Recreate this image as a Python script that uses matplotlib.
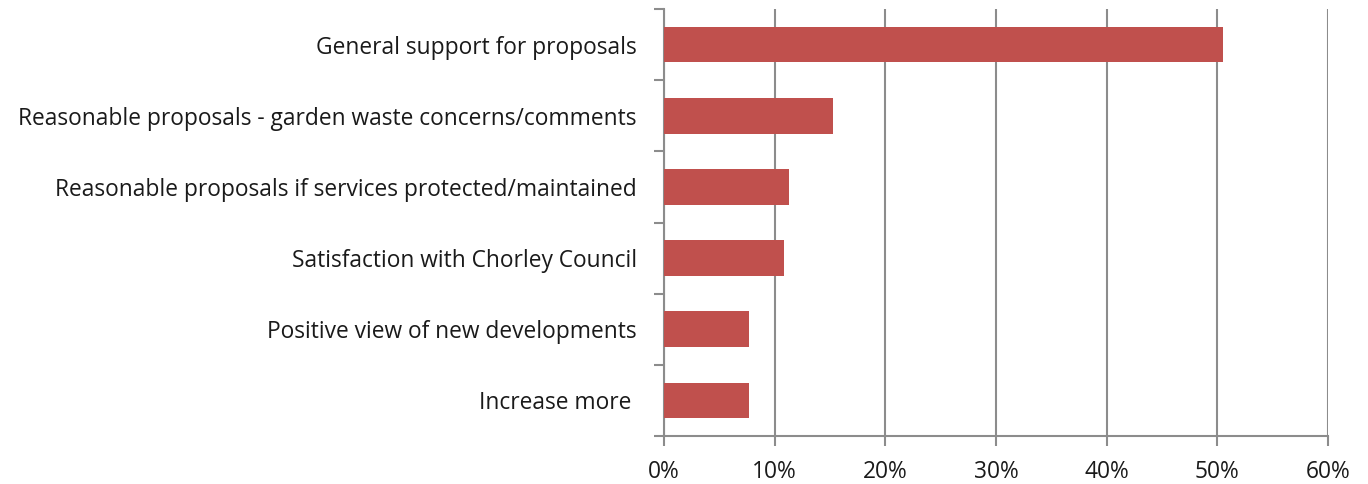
import numpy as np
import matplotlib
matplotlib.use("Agg")
import matplotlib.pyplot as plt
from matplotlib.ticker import FixedLocator, PercentFormatter

plt.rcParams["font.family"] = ["Open Sans", "DejaVu Sans"]

categories = [
    "General support for proposals",
    "Reasonable proposals - garden waste concerns/comments",
    "Reasonable proposals if services protected/maintained",
    "Satisfaction with Chorley Council",
    "Positive view of new developments",
    "Increase more ",
]
values = [50.5, 15.3, 11.3, 10.8, 7.7, 7.7]
x_ticks = [0, 10, 20, 30, 40, 50, 60]

BAR = "#C0504D"
GRID = "#8C8C8C"
TEXT = "#1A1A1A"

fig = plt.figure(figsize=(13.68, 4.84), dpi=100, facecolor="white")
ax = fig.add_axes([664 / 1368, 1 - 436 / 484, (1328 - 664) / 1368, (436 - 9) / 484])

n = len(categories)
y = np.arange(n)[::-1]
ax.barh(y, values, height=0.5, color=BAR, zorder=3)

ax.set_xlim(0, 60)
ax.set_ylim(-0.5, n - 0.5)
ax.set_xticks(x_ticks)
ax.xaxis.set_major_formatter(PercentFormatter(decimals=0))
ax.grid(axis="x", color=GRID, lw=1.5, zorder=0)

ax.set_yticks(y)
ax.set_yticklabels(categories)
ax.yaxis.set_minor_locator(FixedLocator(np.arange(-0.5, n, 1.0)))
ax.tick_params(axis="y", which="major", length=0, pad=19.5, labelsize=16.4, labelcolor=TEXT)
ax.tick_params(axis="y", which="minor", length=7, width=1.5, color=GRID, direction="out")
ax.tick_params(axis="x", length=7, width=1.5, color=GRID, direction="out", pad=10,
               labelsize=16.4, labelcolor=TEXT)

for side in ("top", "right"):
    ax.spines[side].set_visible(False)
for side in ("left", "bottom"):
    ax.spines[side].set_color(GRID)
    ax.spines[side].set_linewidth(1.5)

fig.savefig("out.png", dpi=100, facecolor="white")
